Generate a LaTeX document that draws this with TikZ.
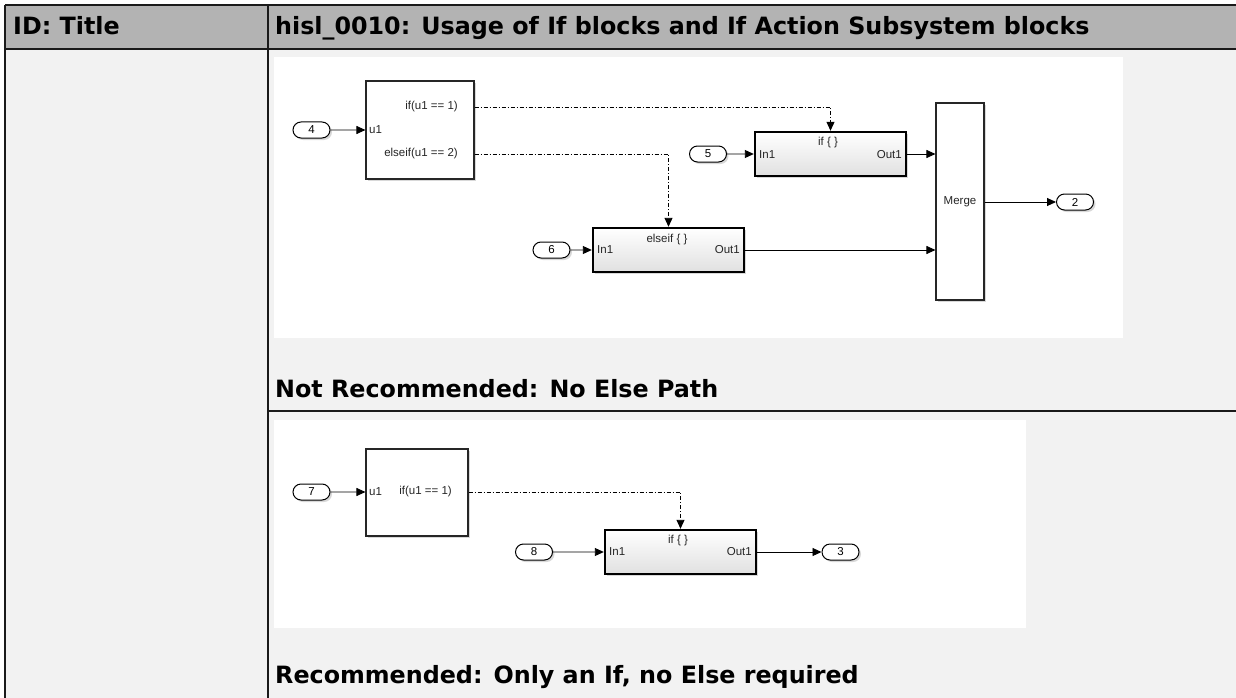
\documentclass[tikz,border=0pt]{standalone}
\usepackage{fontspec}
\setmainfont{DejaVu Sans}
\newfontfamily\slfont{Liberation Sans}
\usetikzlibrary{arrows.meta,shapes.misc,shadows}

\definecolor{headgray}{HTML}{B3B3B3}
\definecolor{cellgray}{HTML}{F2F2F2}
\definecolor{rulecol}{HTML}{1A1A1A}
\definecolor{blocktext}{HTML}{262626}

\begin{document}
\begin{tikzpicture}[x=1pt,y=-1pt,
  tabrule/.style={draw=rulecol,line width=1.4pt},
  headtext/.style={font=\fontsize{23.8}{28}\selectfont\bfseries,anchor=base west,inner sep=0pt},
  sl/.style={font=\slfont\fontsize{11.5}{13}\selectfont,text=blocktext,inner sep=0pt},
  blkshadow/.style={drop shadow={shadow xshift=2pt,shadow yshift=-2pt,opacity=0.3}},
  portpill/.style={rounded rectangle,draw=black,line width=1pt,fill=white,
    minimum width=37pt,minimum height=16pt,inner sep=0pt,blkshadow,sl,text=black},
  ifblk/.style={rectangle,draw=black!85,line width=1.1pt,fill=white,inner sep=0pt,blkshadow},
  actblk/.style={rectangle,draw=black,line width=2.4pt,top color=white,bottom color=black!12,
    inner sep=0pt,minimum width=151pt,minimum height=44pt,blkshadow},
  sig/.style={draw=black,line width=0.9pt,-{Triangle[length=9pt,width=8pt]}},
  ctl/.style={sig,dash pattern=on 4pt off 2pt on 1pt off 2pt},
]
\useasboundingbox (0,0) rectangle (1236,698);

% table background and panels
\fill[white] (0,0) rectangle (1236,698);
\fill[headgray] (5,5) rectangle (1236,49);
\fill[cellgray] (5,49) rectangle (1236,698);
\fill[white] (274,57) rectangle (1123,338);
\fill[white] (274,420) rectangle (1026,628);

% table rules
\draw[tabrule] (5,5) -- (1236,5);
\draw[tabrule] (5,49) -- (1236,49);
\draw[tabrule] (5,5) -- (5,698);
\draw[tabrule] (268,5) -- (268,698);
\draw[tabrule] (268,411) -- (1236,411);

% table texts
\node[headtext] (hid) at (13,35) {ID: Title};
\node[headtext] (htitle) at (275,35) {hisl\_0010: Usage of If blocks and If Action Subsystem blocks};
\node[headtext] (cap1) at (275,397) {Not Recommended: No Else Path};
\node[headtext] (cap2) at (275,683) {Recommended: Only an If, no Else required};

% ---------- model with if / elseif and merge ----------
\node[portpill] (in4) at (311.5,130) {4};
\node[ifblk,minimum width=108pt,minimum height=98pt] (if1) at (420,130) {};
\node[sl,anchor=west] (if1u) at (369,130) {u1};
\node[sl,anchor=east] (if1a) at (458,107) {if(u1 == 1)};
\node[sl,anchor=east] (if1b) at (458,154) {elseif(u1 == 2)};
\coordinate (if1p1) at (if1.east |- if1a);
\coordinate (if1p2) at (if1.east |- if1b);
\draw[sig] (in4) -- (if1.west);

\node[portpill] (in5) at (708,154) {5};
\node[actblk] (act1) at (830.5,154) {};
\node[sl] (act1t) at (828,143) {if \{ \}};
\node[sl,anchor=west] (act1i) at (759,155) {In1};
\node[sl,anchor=east] (act1o) at (902,155) {Out1};
\draw[sig] (in5) -- (act1.west);
\draw[ctl] (if1p1) -| (act1.north);

\node[portpill] (in6) at (551.5,250) {6};
\node[actblk] (act2) at (668.5,250) {};
\node[sl] (act2t) at (667,240) {elseif \{ \}};
\node[sl,anchor=west] (act2i) at (597,250) {In1};
\node[sl,anchor=east] (act2o) at (740,250) {Out1};
\draw[sig] (in6) -- (act2.west);
\draw[ctl] (if1p2) -| (act2.north);

\node[ifblk,sl,minimum width=48pt,minimum height=197pt] (merge) at (960,201.5) {Merge};
\draw[sig] (act1.east) -- (act1.east -| merge.west);
\draw[sig] (act2.east) -- (act2.east -| merge.west);
\node[portpill] (out2) at (1075,202) {2};
\draw[sig] (merge.east |- out2) -- (out2.west);

% ---------- model with a single if ----------
\node[portpill] (in7) at (311.5,492) {7};
\node[ifblk,minimum width=102pt,minimum height=87pt] (if2) at (417,492.5) {};
\node[sl,anchor=west] (if2u) at (369,492) {u1};
\node[sl,anchor=east] (if2a) at (452,492) {if(u1 == 1)};
\draw[sig] (in7) -- (in7 -| if2.west);

\node[portpill] (in8) at (534,552) {8};
\node[actblk] (act3) at (680.5,552) {};
\node[sl] (act3t) at (678,541) {if \{ \}};
\node[sl,anchor=west] (act3i) at (609,552) {In1};
\node[sl,anchor=east] (act3o) at (752,552) {Out1};
\draw[sig] (in8) -- (act3.west);
\draw[ctl] (if2.east |- if2a) -| (act3.north);
\node[portpill] (out3) at (840.5,552) {3};
\draw[sig] (act3.east) -- (out3.west);
\end{tikzpicture}
\end{document}
